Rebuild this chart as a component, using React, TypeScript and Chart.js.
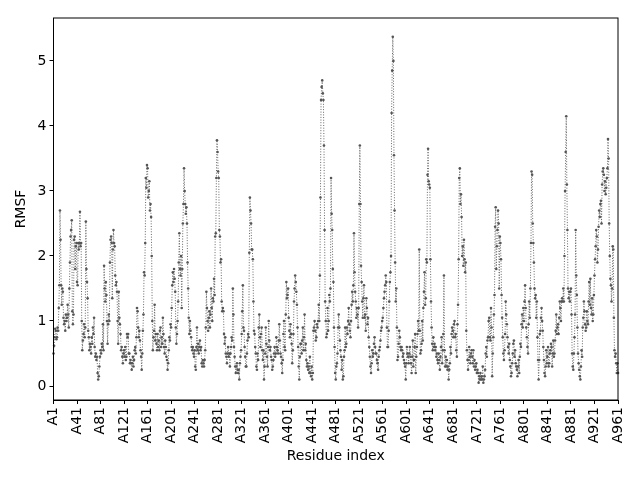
import { useEffect, useRef } from "react";
import { Chart, registerables } from "chart.js";

Chart.register(...registerables);

// RMSF per residue (A1 .. A961)
const rmsfA1to200 = [
  0.5, 0.62, 0.75, 0.88, 0.85, 0.72, 0.75, 0.9, 0.85, 1.2,
  1.55, 2.7, 2.25, 1.55, 1.25, 1.5, 1.45, 1.05, 0.95, 1.0,
  0.85, 1.1, 1.0, 1.05, 1.25, 1.1, 0.9, 1.5, 1.9, 2.3,
  2.4, 2.55, 1.15, 0.95, 1.1, 2.25, 2.3, 1.8, 2.15, 2.2,
  1.6, 1.55, 2.2, 2.1, 2.2, 2.68, 2.15, 2.2, 1.0, 0.55,
  0.7, 0.8, 0.95, 0.75, 0.9, 2.53, 1.8, 1.6, 1.35, 0.85,
  0.75, 0.55, 0.65, 0.6, 0.5, 0.75, 0.65, 0.9, 0.8, 1.05,
  0.6, 0.45, 0.5, 0.4, 0.45, 0.2, 0.1, 0.15, 0.3, 0.45,
  0.55, 0.5, 0.65, 0.6, 0.95, 0.55, 1.85, 1.5, 1.3, 1.6,
  1.4, 1.0, 0.65, 0.95, 1.1, 1.0, 1.9, 2.25, 2.3, 2.2,
  1.35, 2.1, 2.4, 2.2, 2.15, 1.7, 1.55, 1.6, 1.45, 1.0,
  0.65, 1.45, 1.05, 0.95, 0.8, 0.55, 0.6, 0.45, 0.35, 0.5,
  0.55, 0.45, 0.6, 0.4, 0.45, 0.8, 0.75, 0.8, 0.5, 0.5,
  0.35, 0.4, 0.35, 0.25, 0.35, 0.45, 0.3, 0.4, 0.55, 0.6,
  0.5, 0.75, 1.2, 1.15, 0.9, 0.75, 0.85, 0.7, 0.55, 0.45,
  0.25, 0.5, 0.85, 1.1, 1.75, 1.7, 2.2, 3.2, 3.05, 3.4,
  3.35, 2.9, 3.0, 3.15, 2.7, 2.8, 2.6, 2.0, 1.0, 0.55,
  0.75, 0.85, 1.25, 0.7, 0.8, 0.65, 0.55, 0.8, 0.6, 0.7,
  0.55, 0.85, 0.9, 0.6, 0.75, 0.65, 1.05, 0.8, 0.6, 0.5,
  0.7, 0.6, 0.45, 0.4, 0.25, 0.35, 0.55, 0.75, 0.7, 0.95,
];
const rmsfA201to400 = [
  0.9, 1.2, 1.55, 1.75, 1.6, 1.8, 1.65, 1.45, 0.9, 0.65,
  0.8, 1.0, 1.3, 1.9, 2.35, 1.8, 1.7, 2.0, 1.2, 1.8,
  2.5, 2.8, 3.35, 3.0, 2.8, 2.65, 2.75, 2.5, 1.9, 1.5,
  1.05, 0.8, 1.0, 0.85, 0.75, 0.6, 0.55, 0.6, 0.5, 0.45,
  0.55, 0.3, 0.25, 0.6, 0.9, 0.55, 0.65, 0.5, 0.6, 0.7,
  0.55, 0.6, 0.35, 0.3, 0.4, 0.35, 0.3, 0.4, 0.55, 0.9,
  1.45, 1.2, 1.0, 0.85, 1.05, 1.15, 0.9, 1.1, 1.5, 1.2,
  1.0, 1.35, 1.3, 1.65, 1.4, 2.3, 2.35, 3.2, 3.78, 3.6,
  3.3, 3.2, 2.4, 2.3, 1.9, 1.95, 1.3, 1.15, 1.2, 1.15,
  0.8, 0.65, 0.75, 0.5, 0.45, 0.35, 0.5, 0.6, 0.45, 0.5,
  0.3, 0.5, 0.6, 0.75, 0.7, 1.5, 1.1, 0.6, 0.45, 0.3,
  0.2, 0.3, 0.35, 0.25, 0.2, 0.25, 0.1, 0.35, 0.45, 0.55,
  0.8, 1.15, 1.55, 0.9, 0.85, 0.6, 0.45, 0.3, 0.3, 0.5,
  0.7, 0.8, 0.75, 2.05, 2.9, 2.7, 2.5, 2.1, 2.1, 1.95,
  1.3, 0.85, 0.8, 0.6, 0.5, 0.3, 0.25, 0.5, 0.4, 0.9,
  1.1, 0.75, 0.6, 0.8, 0.9, 0.55, 0.4, 0.55, 0.1, 0.3,
  0.5, 0.9, 0.65, 0.45, 0.3, 0.6, 1.0, 0.7, 0.55, 0.6,
  0.45, 0.4, 0.25, 0.3, 0.4, 0.5, 0.6, 0.45, 0.5, 0.75,
  0.6, 0.55, 0.5, 0.7, 0.95, 0.7, 0.5, 0.45, 0.35, 0.2,
  0.4, 0.8, 1.0, 0.6, 0.55, 1.1, 1.6, 1.35, 1.4, 1.5,
];
const rmsfA401to600 = [
  1.05, 0.85, 0.75, 0.95, 0.8, 0.65, 0.35, 0.55, 0.8, 1.3,
  1.5, 1.7, 1.6, 1.45, 1.25, 0.9, 0.6, 0.3, 0.1, 0.45,
  0.65, 0.65, 0.5, 0.7, 0.9, 0.55, 0.75, 1.1, 0.55, 0.65,
  0.4, 0.3, 0.35, 0.25, 0.3, 0.2, 0.45, 0.2, 0.15, 0.3,
  0.1, 0.2, 0.85, 0.9, 1.0, 0.85, 0.7, 0.75, 0.95, 0.9,
  1.0, 1.25, 1.0, 1.7, 2.9, 4.4, 4.6, 4.7, 4.5, 4.4,
  3.7, 2.4, 1.3, 1.0, 0.75, 0.8, 1.2, 0.85, 1.0, 1.4,
  1.3, 1.5, 3.2, 2.65, 2.4, 1.8, 1.6, 0.9, 0.6, 0.2,
  0.1, 0.3, 0.35, 0.5, 0.9, 1.1, 0.9, 0.7, 0.55, 0.45,
  0.25, 0.4, 0.1, 0.15, 0.45, 0.55, 0.9, 0.6, 0.65, 0.9,
  0.8, 1.0, 1.2, 0.95, 0.85, 0.75, 1.0, 1.25, 1.45, 1.3,
  1.55, 2.35, 1.75, 1.45, 1.3, 1.05, 1.2, 1.1, 0.9, 1.2,
  2.8, 3.7, 2.8, 1.85, 1.6, 1.3, 1.05, 1.35, 1.55, 1.05,
  1.1, 0.85, 1.35, 1.2, 0.95, 1.05, 0.75, 0.6, 0.45, 0.3,
  0.2, 0.35, 0.55, 0.45, 0.5, 0.65, 0.75, 0.6, 0.5, 0.5,
  0.4, 0.35, 0.25, 0.45, 0.55, 0.6, 0.7, 0.85, 0.9, 1.0,
  1.05, 1.2, 1.35, 1.45, 1.55, 1.7, 1.6, 0.9, 0.6, 0.6,
  0.85, 1.3, 1.6, 1.75, 2.0, 4.2, 4.85, 5.37, 5.0, 3.55,
  2.7, 1.9, 1.3, 1.5, 0.9, 0.4, 0.45, 0.65, 0.85, 0.75,
  0.6, 0.55, 0.6, 0.55, 0.45, 0.5, 0.4, 0.35, 0.3, 0.1,
];
const rmsfA601to800 = [
  0.35, 0.6, 0.5, 0.45, 0.35, 0.5, 0.6, 0.45, 0.35, 0.2,
  0.45, 0.7, 0.3, 0.4, 0.6, 0.8, 0.2, 0.45, 0.6, 0.8,
  1.0, 0.85, 2.1, 0.85, 0.5, 0.55, 0.65, 1.0, 0.7, 1.2,
  1.45, 1.75, 1.25, 1.35, 1.95, 1.9, 3.25, 3.65, 3.15, 3.1,
  3.05, 1.95, 1.3, 0.9, 0.65, 0.55, 0.75, 0.6, 0.65, 0.55,
  0.6, 0.45, 0.5, 0.4, 0.35, 0.5, 0.4, 0.25, 0.45, 0.6,
  0.75, 0.35, 0.55, 0.8, 1.7, 0.55, 0.3, 0.45, 0.3, 0.4,
  0.25, 0.3, 0.1, 0.25, 0.35, 0.6, 0.5, 0.8, 0.9, 0.85,
  0.75, 0.95, 1.0, 0.75, 0.8, 0.55, 0.45, 0.95, 1.25, 1.95,
  3.2, 3.35, 2.8, 2.95, 2.6, 2.0, 2.15, 1.85, 2.25, 1.95,
  1.75, 1.9, 0.85, 0.55, 0.4, 0.25, 0.4, 0.6, 0.45, 0.35,
  0.5, 0.55, 0.45, 0.35, 0.55, 0.3, 0.4, 0.25, 0.3, 0.35,
  0.2, 0.25, 0.2, 0.05, 0.15, 0.1, 0.2, 0.1, 0.15, 0.1,
  0.3, 0.05, 0.1, 0.15, 0.25, 0.5, 0.6, 0.45, 0.7, 0.75,
  1.0, 1.05, 0.75, 0.7, 1.2, 0.9, 0.15, 0.5, 0.75, 1.1,
  1.4, 2.45, 2.75, 1.8, 2.15, 2.4, 2.7, 2.5, 1.5, 2.3,
  2.2, 1.95, 1.4, 1.05, 0.75, 0.5, 0.4, 0.55, 0.8, 1.3,
  1.1, 0.95, 0.75, 0.6, 0.5, 0.65, 0.4, 0.3, 0.15, 0.2,
  0.35, 0.5, 0.65, 0.7, 0.45, 0.55, 0.35, 0.3, 0.25, 0.15,
  0.3, 0.4, 0.2, 0.45, 0.65, 0.6, 0.95, 1.1, 0.9, 1.2,
];
const rmsfA801to961 = [
  1.0, 1.3, 1.55, 1.2, 0.9, 0.75, 0.6, 0.5, 0.95, 1.3,
  1.05, 1.5, 2.2, 3.3, 3.25, 2.5, 2.2, 1.9, 1.5, 1.35,
  1.4, 1.05, 1.3, 0.75, 0.4, 0.1, 0.4, 0.8, 0.85, 1.05,
  1.2, 1.0, 0.85, 0.6, 0.4, 0.2, 0.15, 0.3, 0.55, 0.35,
  0.45, 0.6, 0.3, 0.35, 0.5, 0.55, 0.65, 0.6, 0.3, 0.5,
  0.7, 0.45, 0.5, 0.7, 0.85, 1.1, 0.8, 0.9, 0.95, 0.8,
  1.05, 1.3, 1.2, 1.0, 1.3, 1.35, 1.3, 1.5, 1.3, 2.0,
  3.0, 3.6, 4.15, 3.1, 2.4, 1.5, 1.35, 1.45, 1.3, 1.45,
  1.5, 1.1, 0.5, 0.3, 0.25, 0.5, 0.75, 1.1, 2.4, 1.7,
  1.4, 0.9, 0.5, 0.35, 0.25, 0.15, 0.1, 0.3, 0.55, 0.45,
  0.9, 1.05, 1.3, 1.15, 0.95, 0.85, 0.9, 1.15, 1.0, 0.95,
  1.3, 1.6, 1.25, 1.65, 1.2, 1.1, 1.35, 1.0, 1.1, 1.4,
  1.7, 1.95, 2.15, 2.4, 2.3, 1.9, 2.1, 2.45, 2.7, 2.6,
  2.8, 2.85, 2.5, 3.1, 3.3, 3.35, 3.25, 3.0, 3.15, 2.95,
  3.05, 3.2, 3.35, 3.8, 3.5, 2.5, 2.0, 1.65, 1.55, 1.3,
  1.5, 2.15, 2.1, 1.05, 0.55, 0.45, 0.5, 0.35, 0.2, 0.35,
  0.2,
];

const rmsf = [
  ...rmsfA1to200,
  ...rmsfA201to400,
  ...rmsfA401to600,
  ...rmsfA601to800,
  ...rmsfA801to961,
];
const residues = rmsf.map((_, i) => `A${i + 1}`);
const xTickEvery = 40;
const yTicks = [0, 1, 2, 3, 4, 5];

export default function App() {
  const canvasRef = useRef<HTMLCanvasElement | null>(null);
  const chartRef = useRef<Chart | null>(null);

  useEffect(() => {
    const ctx = canvasRef.current?.getContext("2d");
    if (chartRef.current) chartRef.current.destroy();

    Chart.defaults.font.family = "'DejaVu Sans', sans-serif";
    Chart.defaults.font.size = 14;
    Chart.defaults.color = "#000";

    // full box round the plot, like matplotlib's spines
    const frame = {
      id: "frame",
      afterDraw(chart: Chart) {
        const { ctx, chartArea } = chart;
        ctx.save();
        ctx.strokeStyle = "#000";
        ctx.lineWidth = 1;
        ctx.strokeRect(
          chartArea.left,
          chartArea.top,
          chartArea.right - chartArea.left,
          chartArea.bottom - chartArea.top
        );
        ctx.restore();
      },
    };

    chartRef.current = new Chart(ctx!, {
      type: "line",
      data: {
        labels: residues,
        datasets: [
          {
            label: "RMSF",
            data: rmsf,
            borderColor: "#666",
            borderWidth: 1,
            borderDash: [1, 1.65],
            pointRadius: 1.3,
            pointBackgroundColor: "#555",
            pointBorderWidth: 0,
            tension: 0,
          },
        ],
      },
      options: {
        responsive: false,
        animation: false,
        layout: { padding: { top: 18, right: 22, bottom: 11, left: 9 } },
        plugins: {
          legend: { display: false },
          tooltip: { enabled: false },
        },
        scales: {
          x: {
            type: "category",
            offset: false,
            afterBuildTicks: (axis: any) => {
              axis.ticks = axis.ticks.filter(
                (t: any) => t.value % xTickEvery === 0
              );
            },
            afterFit: (axis: any) => {
              axis.height = 69;
            },
            ticks: {
              autoSkip: false,
              minRotation: 90,
              maxRotation: 90,
              padding: 3,
              color: "#000",
            },
            grid: {
              display: true,
              drawOnChartArea: false,
              drawTicks: true,
              tickLength: 4,
              color: "#000",
            },
            border: { display: true, color: "#000", width: 1 },
            title: { display: true, text: "Residue index", color: "#000" },
          },
          y: {
            min: -0.215,
            max: 5.66,
            afterBuildTicks: (axis: any) => {
              axis.ticks = yTicks.map((v) => ({ value: v }));
            },
            afterFit: (axis: any) => {
              axis.width = 44.5;
            },
            ticks: { padding: 3, color: "#000" },
            grid: {
              display: true,
              drawOnChartArea: false,
              drawTicks: true,
              tickLength: 4,
              color: "#000",
            },
            border: { display: true, color: "#000", width: 1 },
            title: { display: true, text: "RMSF", color: "#000" },
          },
        },
      },
      plugins: [frame],
    });

    return () => {
      if (chartRef.current) {
        chartRef.current.destroy();
        chartRef.current = null;
      }
    };
  }, []);

  return (
    <div
      style={{
        position: "absolute",
        left: 0,
        top: 0,
        width: 640,
        height: 480,
        background: "#fff",
      }}
    >
      <canvas
        ref={canvasRef}
        width={640}
        height={480}
        style={{ display: "block" }}
      />
    </div>
  );
}
